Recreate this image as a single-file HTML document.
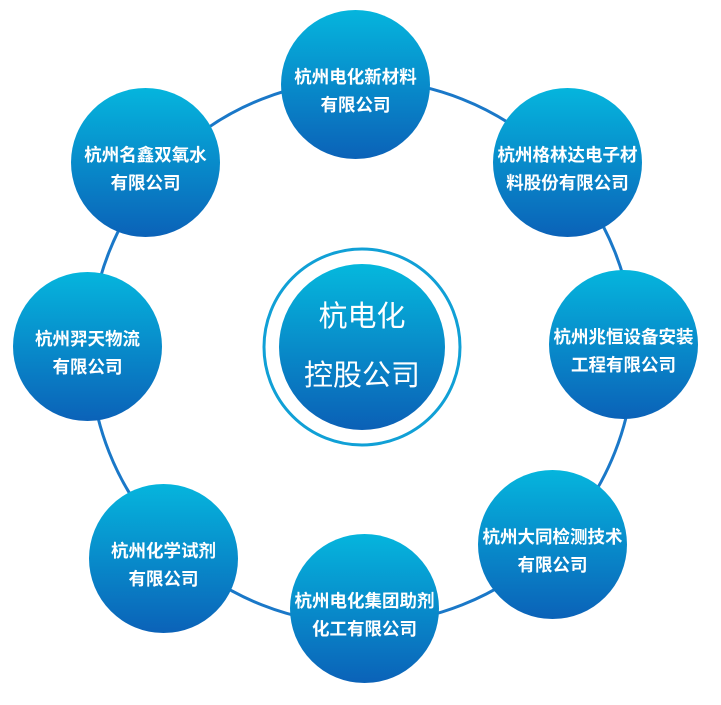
<!DOCTYPE html>
<html><head><meta charset="utf-8"><style>
html,body{margin:0;padding:0;background:#fff;}
body{width:721px;height:705px;position:relative;overflow:hidden;font-family:"Liberation Sans","Noto Sans CJK SC",sans-serif;}
.c{position:absolute;box-sizing:border-box;padding-top:12px;width:149px;height:149px;border-radius:50%;background:linear-gradient(#05b5dd,#0b62b8);color:#fff;font-weight:bold;font-size:17.5px;line-height:28px;display:flex;align-items:center;justify-content:center;text-align:center;white-space:nowrap;}
</style></head><body>
<svg width="721" height="705" style="position:absolute;left:0;top:0">
<circle cx="362" cy="352" r="272" fill="none" stroke="#1a78c8" stroke-width="3"/>
<circle cx="362" cy="347" r="98" fill="none" stroke="#10a0d6" stroke-width="3"/>
<defs><linearGradient id="g" x1="0" y1="0" x2="0" y2="1"><stop offset="0" stop-color="#05b8dd"/><stop offset="1" stop-color="#0b60b6"/></linearGradient></defs>
<circle cx="362" cy="347" r="83" fill="url(#g)"/>
<text x="362" y="326" fill="#fff" font-size="29" text-anchor="middle" font-family="Liberation Sans,Noto Sans CJK SC,sans-serif">杭电化</text>
<text x="362" y="385" fill="#fff" font-size="29" text-anchor="middle" font-family="Liberation Sans,Noto Sans CJK SC,sans-serif">控股公司</text>
</svg>
<div class="c" style="left:281px;top:10px">杭州电化新材料<br>有限公司</div>
<div class="c" style="left:493px;top:88px">杭州格林达电子材<br>料股份有限公司</div>
<div class="c" style="left:549px;top:270px">杭州兆恒设备安装<br>工程有限公司</div>
<div class="c" style="left:478px;top:470px">杭州大同检测技术<br>有限公司</div>
<div class="c" style="left:290px;top:534px">杭州电化集团助剂<br>化工有限公司</div>
<div class="c" style="left:89px;top:484px">杭州化学试剂<br>有限公司</div>
<div class="c" style="left:13px;top:272px">杭州羿天物流<br>有限公司</div>
<div class="c" style="left:71px;top:88px">杭州名鑫双氧水<br>有限公司</div>
</body></html>
